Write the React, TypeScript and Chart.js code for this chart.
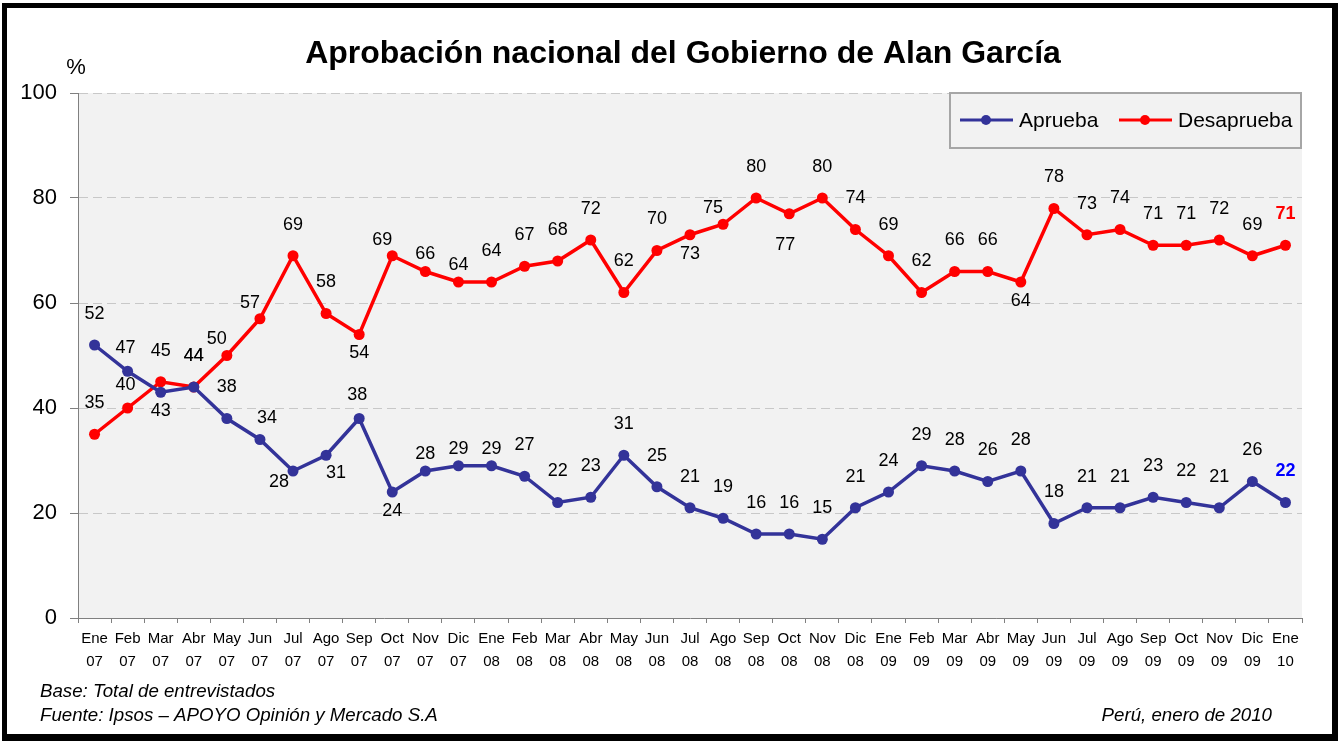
import React, { useEffect, useRef } from "react";
import { Chart, registerables } from "chart.js";

Chart.register(...registerables);

// ---------- data ----------
const MONTHS = [
  "Ene", "Feb", "Mar", "Abr", "May", "Jun", "Jul", "Ago", "Sep", "Oct", "Nov", "Dic",
  "Ene", "Feb", "Mar", "Abr", "May", "Jun", "Jul", "Ago", "Sep", "Oct", "Nov", "Dic",
  "Ene", "Feb", "Mar", "Abr", "May", "Jun", "Jul", "Ago", "Sep", "Oct", "Nov", "Dic",
  "Ene",
];
const YEARS = [
  "07", "07", "07", "07", "07", "07", "07", "07", "07", "07", "07", "07",
  "08", "08", "08", "08", "08", "08", "08", "08", "08", "08", "08", "08",
  "09", "09", "09", "09", "09", "09", "09", "09", "09", "09", "09", "09",
  "10",
];
const APRUEBA = [
  52, 47, 43, 44, 38, 34, 28, 31, 38, 24, 28, 29,
  29, 27, 22, 23, 31, 25, 21, 19, 16, 16, 15, 21,
  24, 29, 28, 26, 28, 18, 21, 21, 23, 22, 21, 26,
  22,
];
const DESAPRUEBA = [
  35, 40, 45, 44, 50, 57, 69, 58, 54, 69, 66, 64,
  64, 67, 68, 72, 62, 70, 73, 75, 80, 77, 80, 74,
  69, 62, 66, 66, 64, 78, 73, 74, 71, 71, 72, 69,
  71,
];
const Y_TICKS = [0, 20, 40, 60, 80, 100];

// label placement codes (relative to each point)
const POS_APRUEBA = [
  "T", "M", "B", "T", "T", "UR", "LL", "LR", "M", "B", "N", "N",
  "N", "T", "T", "T", "T", "T", "T", "T", "T", "T", "T", "T",
  "T", "T", "T", "T", "T", "T", "T", "T", "T", "T", "T", "T",
  "T",
];
const POS_DESAPRUEBA = [
  "T", "M", "T", "T", "UL", "UL", "T", "T", "B", "UL", "N", "N",
  "T", "T", "T", "T", "T", "T", "B", "UL", "T", "BB", "T", "T",
  "T", "T", "T", "T", "B", "T", "T", "T", "T", "T", "T", "T",
  "T",
];

const TITLE = "Aprobación nacional del Gobierno de Alan García";
const NOTE_1 = "Base: Total de entrevistados";
const NOTE_2 = "Fuente: Ipsos – APOYO Opinión y Mercado S.A";
const NOTE_3 = "Perú, enero de 2010";

// ---------- styles ----------
const FONT = "Arial, 'Liberation Sans', Helvetica, sans-serif";
const C_APRUEBA = "#333399";
const C_DESAPRUEBA = "#ff0000";
const OFFSETS: Record<string, [number, number]> = {
  T: [0, -31],
  M: [-2, -23],
  N: [0, -17],
  B: [0, 19],
  BB: [-4, 31],
  UL: [-10, -16],
  UR: [7, -21],
  LL: [-14, 11],
  LR: [10, 18],
};

const decorPlugin = {
  id: "decor",
  beforeDraw(chart: any) {
    const { ctx, chartArea: a } = chart;
    ctx.save();
    ctx.fillStyle = "#ffffff";
    ctx.fillRect(0, 0, chart.width, chart.height);
    ctx.fillStyle = "#f2f2f2";
    ctx.fillRect(a.left, a.top, a.right - a.left, a.bottom - a.top);
    ctx.restore();
  },
  afterDatasetsDraw(chart: any) {
    const { ctx } = chart;
    ctx.save();
    ctx.textAlign = "center";
    ctx.textBaseline = "middle";
    chart.data.datasets.forEach((ds: any, di: number) => {
      const meta = chart.getDatasetMeta(di);
      const pos: string[] = ds.labelPos;
      meta.data.forEach((pt: any, i: number) => {
        const off = OFFSETS[pos[i]] || OFFSETS.T;
        const last = i === ds.data.length - 1;
        ctx.font = (last ? "bold " : "") + "18px " + FONT;
        ctx.fillStyle = last ? ds.lastLabelColor : "#000000";
        ctx.fillText(String(ds.data[i]), pt.x + off[0], pt.y + off[1]);
      });
    });
    ctx.restore();
  },
  afterDraw(chart: any) {
    const { ctx, chartArea: a } = chart;
    ctx.save();
    // legend
    const bx = 950, by = a.top, bw = a.right - 1 - bx, bh = 55;
    ctx.fillStyle = "#f2f2f2";
    ctx.fillRect(bx, by, bw, bh);
    ctx.strokeStyle = "#a6a6a6";
    ctx.lineWidth = 2;
    ctx.strokeRect(bx, by, bw, bh);
    const ly = by + 27;
    const items = [
      { x: 960, color: C_APRUEBA, text: chart.data.datasets[0].label },
      { x: 1119, color: C_DESAPRUEBA, text: chart.data.datasets[1].label },
    ];
    items.forEach((it) => {
      ctx.strokeStyle = it.color;
      ctx.lineWidth = 3;
      ctx.beginPath();
      ctx.moveTo(it.x, ly);
      ctx.lineTo(it.x + 53, ly);
      ctx.stroke();
      ctx.fillStyle = it.color;
      ctx.beginPath();
      ctx.arc(it.x + 26, ly, 5, 0, Math.PI * 2);
      ctx.fill();
      ctx.fillStyle = "#000000";
      ctx.font = "21px " + FONT;
      ctx.textAlign = "left";
      ctx.textBaseline = "middle";
      ctx.fillText(it.text, it.x + 59, ly + 1);
    });
    // title
    ctx.fillStyle = "#000000";
    ctx.font = "bold 32px " + FONT;
    ctx.textAlign = "center";
    ctx.textBaseline = "alphabetic";
    ctx.fillText(TITLE, 683, 63);
    // % unit
    ctx.font = "22px " + FONT;
    ctx.textAlign = "center";
    ctx.textBaseline = "middle";
    ctx.fillText("%", 76, 68);
    // notes
    ctx.font = "italic 18.7px " + FONT;
    ctx.textAlign = "left";
    ctx.fillText(NOTE_1, 40, 692);
    ctx.fillText(NOTE_2, 40, 716);
    ctx.textAlign = "right";
    ctx.fillText(NOTE_3, 1272, 716);
    // frame
    ctx.fillStyle = "#000000";
    ctx.fillRect(2, 3, 5, 738);
    ctx.fillRect(2, 3, 1336, 5);
    ctx.fillRect(1332, 3, 6, 738);
    ctx.fillRect(2, 734, 1336, 7);
    ctx.restore();
  },
};

export default function App() {
  const ref = useRef<HTMLCanvasElement | null>(null);

  useEffect(() => {
    if (!ref.current) return;
    const chart = new Chart(ref.current, {
      type: "line",
      data: {
        labels: MONTHS.map((m, i) => [m, YEARS[i]]),
        datasets: [
          {
            label: "Aprueba",
            data: APRUEBA,
            borderColor: C_APRUEBA,
            backgroundColor: C_APRUEBA,
            borderWidth: 3.5,
            pointRadius: 5.5,
            pointHoverRadius: 5.5,
            pointBackgroundColor: C_APRUEBA,
            pointBorderWidth: 0,
            tension: 0,
            labelPos: POS_APRUEBA,
            lastLabelColor: "#0000ff",
          } as any,
          {
            label: "Desaprueba",
            data: DESAPRUEBA,
            borderColor: C_DESAPRUEBA,
            backgroundColor: C_DESAPRUEBA,
            borderWidth: 3.5,
            pointRadius: 5.5,
            pointHoverRadius: 5.5,
            pointBackgroundColor: C_DESAPRUEBA,
            pointBorderWidth: 0,
            tension: 0,
            labelPos: POS_DESAPRUEBA,
            lastLabelColor: "#ff0000",
          } as any,
        ],
      },
      options: {
        responsive: false,
        animation: false,
        layout: { padding: { left: 0, top: 93, right: 40, bottom: 0 } },
        plugins: {
          legend: { display: false },
          title: { display: false },
          tooltip: { enabled: false },
        },
        scales: {
          x: {
            type: "category",
            offset: true,
            grid: {
              offset: true,
              drawOnChartArea: false,
              drawTicks: true,
              tickLength: 5,
              tickColor: "#808080",
              color: "#808080",
            },
            border: { display: true, color: "#808080", width: 1 },
            ticks: {
              autoSkip: false,
              maxRotation: 0,
              minRotation: 0,
              padding: 4,
              color: "#000000",
              font: { family: FONT, size: 15, lineHeight: 1.55 },
            },
            afterFit: (s: any) => {
              s.height = 125;
            },
          },
          y: {
            min: 0,
            max: 100,
            afterBuildTicks: (s: any) => {
              s.ticks = Y_TICKS.map((v) => ({ value: v }));
            },
            grid: {
              color: "#c8c8c8",
              lineWidth: 1,
              tickLength: 8,
              tickColor: "#808080",
              tickBorderDash: [],
            },
            border: { display: true, color: "#808080", width: 1, dash: [9, 5] },
            ticks: {
              padding: 13,
              color: "#000000",
              font: { family: FONT, size: 22 },
            },
            afterFit: (s: any) => {
              s.width = 78;
            },
          },
        },
      },
      plugins: [decorPlugin],
    } as any);
    return () => chart.destroy();
  }, []);

  return (
    <div style={{ position: "absolute", left: 0, top: 0, width: 1342, height: 743, background: "#fff" }}>
      <canvas ref={ref} width={1342} height={743} style={{ width: 1342, height: 743, display: "block" }} />
    </div>
  );
}
